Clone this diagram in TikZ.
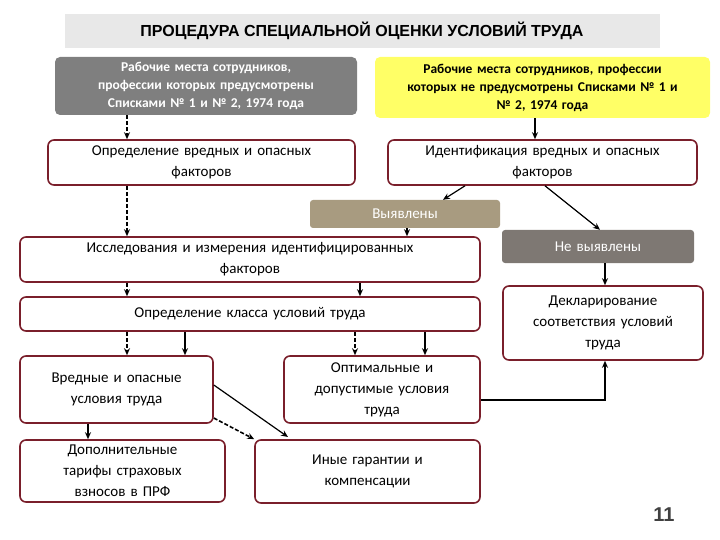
\documentclass[tikz,border=0pt]{standalone}
\usepackage{fontspec}
\setmainfont{Carlito}
\newfontfamily\arialf{Liberation Sans}
\usetikzlibrary{arrows.meta}
\definecolor{bord}{HTML}{7A1F2B}
\definecolor{dgray}{HTML}{7F7F7F}
\definecolor{tan}{HTML}{A89B80}
\definecolor{ngray}{HTML}{7E7873}
\definecolor{yel}{HTML}{FFFF66}
\tikzset{
 wbox/.style={draw=bord,line width=1.6pt,rounded corners=6pt,fill=white,align=center,font=\fontsize{15}{21}\selectfont,inner sep=1pt},
 fbox/.style={rounded corners=5pt,align=center,font=\fontsize{13.5}{18}\selectfont\bfseries,inner sep=1pt},
 arr/.style={-{Stealth[length=7pt,width=6pt]},line width=1.2pt},
 darr/.style={arr,dashed,dash pattern=on 4pt off 2pt,line width=1.6pt},
}
\newcommand{\bx}[6]{\node[#2,minimum width=#5-#3,minimum height=#6-#4,text width=#5-#3-4] (#1) at ({(#3+#5)/2},{(#4+#6)/2})}
\begin{document}
\begin{tikzpicture}[x=1pt,y=-1pt]
\useasboundingbox (0,0) rectangle (720,540);
\node[fill=gray!18,minimum width=595,minimum height=34,font=\arialf\fontsize{16}{18}\selectfont\bfseries] (t) at (362,31) {ПРОЦЕДУРА СПЕЦИАЛЬНОЙ ОЦЕНКИ УСЛОВИЙ ТРУДА};
\bx{a}{fbox,fill=dgray,text=white}{55}{57}{357}{115}{Рабочие места сотрудников,\\ профессии которых предусмотрены\\ Списками № 1 и № 2, 1974 года};
\bx{b}{fbox,fill=yel}{375}{57}{710}{118}{Рабочие места сотрудников, профессии\\ которых не предусмотрены Списками № 1 и\\ № 2, 1974 года};
\bx{c}{wbox}{48}{140}{355}{185}{Определение вредных и опасных\\ факторов};
\bx{d}{wbox}{388}{140}{697}{185}{Идентификация вредных и опасных\\ факторов};
\bx{v}{fbox,fill=tan,text=white,font=\fontsize{15}{18}\selectfont,rounded corners=3pt}{310}{200}{500}{228}{Выявлены};
\bx{n}{fbox,fill=ngray,text=white,font=\fontsize{15}{18}\selectfont,rounded corners=3pt}{502}{230}{694}{263}{Не выявлены};
\bx{e}{wbox}{20}{237}{480}{282}{Исследования и измерения идентифицированных\\ факторов};
\bx{f}{wbox}{503}{286}{703}{360}{Декларирование\\ соответствия условий\\ труда};
\bx{g}{wbox}{20}{297}{480}{331}{Определение класса условий труда};
\bx{h}{wbox}{20}{356}{213}{423}{Вредные и опасные\\ условия труда};
\bx{i}{wbox}{284}{356}{480}{423}{Оптимальные и\\ допустимые условия\\ труда};
\bx{j}{wbox}{20}{440}{225}{502}{Дополнительные\\ тарифы страховых\\ взносов в ПРФ};
\bx{k}{wbox}{255}{440}{480}{503}{Иные гарантии и\\ компенсации};
\node[font=\arialf\fontsize{20}{22}\selectfont\bfseries,text=black!75] (num) at (664,515) {11};
\draw[darr] (a.south -| 127,0) -- (c.north -| 127,0);
\draw[darr] (c.south -| 127,0) -- (e.north -| 127,0);
\draw[arr] (b.south -| 535,0) -- (d.north -| 535,0);
\draw[arr] (d.south -| 465,0) -- (v.north -| 443,0);
\draw[arr] (d.south -| 545,0) -- (n.north -| 600,0);
\draw[arr] (v.south -| 407,0) -- (e.north -| 407,0);
\draw[arr] (n.south -| 605,0) -- (f.north -| 605,0);
\draw[darr] (e.south -| 127,0) -- (g.north -| 127,0);
\draw[arr] (e.south -| 360,0) -- (g.north -| 360,0);
\draw[darr] (g.south -| 127,0) -- (h.north -| 127,0);
\draw[arr] (g.south -| 185,0) -- (h.north -| 185,0);
\draw[darr] (g.south -| 355,0) -- (i.north -| 355,0);
\draw[arr] (g.south -| 425,0) -- (i.north -| 425,0);
\draw[arr] (h.south -| 88,0) -- (j.north -| 88,0);
\draw[arr] (h.east |- 0,385) -- (288,437);
\draw[darr] (h.east |- 0,418) -- (k.north west);
\draw[arr,line width=2.2pt] (i.east |- 0,400) -- (605,400) -- (f.south -| 605,0);
\end{tikzpicture}
\end{document}
